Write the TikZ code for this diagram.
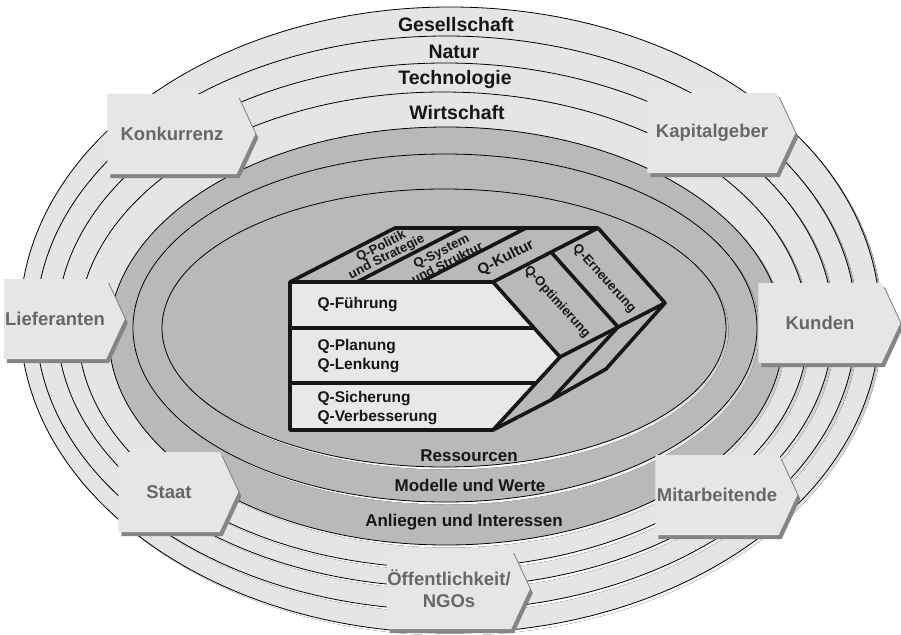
\documentclass[tikz,border=0pt]{standalone}
\usepackage{fontspec}
\setmainfont{Liberation Sans}
\usetikzlibrary{shapes.symbols,shadows}
\definecolor{ringlight}{HTML}{E4E5E4}
\definecolor{ringdark}{HTML}{B9B9B9}
\definecolor{shade}{HTML}{858585}
\definecolor{facelight}{HTML}{E8E8E8}
\definecolor{ink}{HTML}{161616}
\definecolor{stakefill}{HTML}{E6E6E6}
\definecolor{staketext}{HTML}{676767}
\tikzset{ring/.style={draw=black,line width=0.8pt},
  ringlabel/.style={font=\bfseries\fontsize{19.5}{22}\selectfont,text=ink},
  innerlabel/.style={font=\bfseries\fontsize{17}{19}\selectfont,text=ink},
  stake/.style={signal,signal to=east,signal from=nowhere,signal pointer angle=130,
    fill=stakefill,minimum height=80pt,inner sep=0pt,align=center,text=staketext,
    font=\bfseries\fontsize{18.5}{22}\selectfont,
    drop shadow={shadow xshift=3pt,shadow yshift=-4pt,fill=shade,opacity=1}},
  face/.style={draw=ink,line width=3.6pt,line join=round},
  rowtext/.style={anchor=west,align=left,font=\bfseries\fontsize{15.5}{19}\selectfont,text=ink},
  slanttext/.style={align=center,inner sep=0pt,font=\bfseries\fontsize{13}{12}\selectfont,text=ink}}
\newcommand{\ringlayer}[5]{%
\fill[shade] (#1+2.5,#2+2.5) ellipse [x radius=#3pt,y radius=#4pt];
\filldraw[ring,fill=#5] (#1,#2) ellipse [x radius=#3pt,y radius=#4pt];}

\begin{document}
\begin{tikzpicture}[x=1pt,y=-1pt]
\useasboundingbox (0,0) rectangle (901,634);
\clip (0,0) rectangle (901,634);
\fill[white] (0,0) rectangle (901,634);
% Umfeld und Organisation
\ringlayer{450}{320}{430}{313}{ringlight}
\ringlayer{446}{323}{410}{287}{ringlight}
\ringlayer{445}{325}{388}{262}{ringlight}
\ringlayer{443}{330}{365}{238}{ringlight}
\ringlayer{446}{336}{337}{209}{ringdark}
\ringlayer{445}{328}{312}{174}{ringdark}
\ringlayer{444}{328}{282}{139}{ringdark}
\node[ringlabel] (gesellschaft) at (456,25) {Gesellschaft};
\node[ringlabel] (natur) at (454,52) {Natur};
\node[ringlabel] (technologie) at (455,80) {Technologie};
\node[ringlabel] (wirtschaft) at (457,113) {Wirtschaft};
\node[innerlabel] (ressourcen) at (469,456) {Ressourcen};
\node[innerlabel] (modelle) at (470,485) {Modelle und Werte};
\node[innerlabel] (anliegen) at (464,522) {Anliegen und Interessen};
% Q-Modell
\coordinate (ftl) at (290,282);
\coordinate (ftr) at (493,282);
\coordinate (tip) at (560,357);
\coordinate (fbr) at (493,430);
\coordinate (fbl) at (290,430);
\coordinate (btl) at (395,228);
\coordinate (btr) at (598,228);
\coordinate (btip) at (665,303);
\coordinate (bbr) at (606,369);
\coordinate (mtr) at (551,252);
\coordinate (mtip) at (618,327);
\coordinate (mbr) at (551,400);
\fill[ringdark] (ftl)--(btl)--(btr)--(btip)--(bbr)--(mbr)--(fbr)--cycle;
\fill[facelight] (ftl)--(ftr)--(tip)--(fbr)--(fbl)--cycle;
\draw[face] (ftl)--(ftr)--(tip)--(fbr)--(fbl)--cycle;
\draw[face] (ftl)--(btl)--(btr)--(ftr);
\draw[face] (btr)--(btip)--(tip);
\draw[face] (btip)--(bbr)--(mbr)--(fbr);
\draw[face] (mtr)--(mtip)--(mbr);
\draw[face] (357,282)--(462,228) (421,282)--(526,228);
\draw[face] (290,328)--(534,328) (290,383)--(536,383);
\node[rowtext] (fuehrung) at (314,305) {Q-Führung};
\node[rowtext] (planung) at (314,356) {Q-Planung\\Q-Lenkung};
\node[rowtext] (sicherung) at (314,408) {Q-Sicherung\\Q-Verbesserung};
\node[slanttext,rotate=27] (politik) at (384,252) {Q-Politik\\und Strategie};
\node[slanttext,rotate=27] (system) at (444,257) {Q-System\\und Struktur};
\node[slanttext,rotate=27,font=\bfseries\fontsize{15}{14}\selectfont] (kultur) at (506,258) {Q-Kultur};
\node[slanttext,rotate=-48] (optimierung) at (557,302) {Q-Optimierung};
\node[slanttext,rotate=-48] (erneuerung) at (604,279) {Q-Erneuerung};
% Anspruchsgruppen
\node[stake,minimum width=148pt] (konkurrenz) at (172,134) {Konkurrenz};
\node[stake,minimum width=148pt] (kapitalgeber) at (712,133) {Kapitalgeber};
\node[stake,minimum width=121pt] (lieferanten) at (55,319) {Lieferanten};
\node[stake,minimum width=142pt] (kunden) at (820,323) {Kunden};
\node[stake,minimum width=120pt] (staat) at (169,492) {Staat};
\node[stake,minimum width=142pt] (mitarbeitende) at (717,495) {Mitarbeitende};
\node[stake,minimum width=143pt] (oeffentlichkeit) at (449,589) {Öffentlichkeit/\\NGOs};
\end{tikzpicture}
\end{document}
